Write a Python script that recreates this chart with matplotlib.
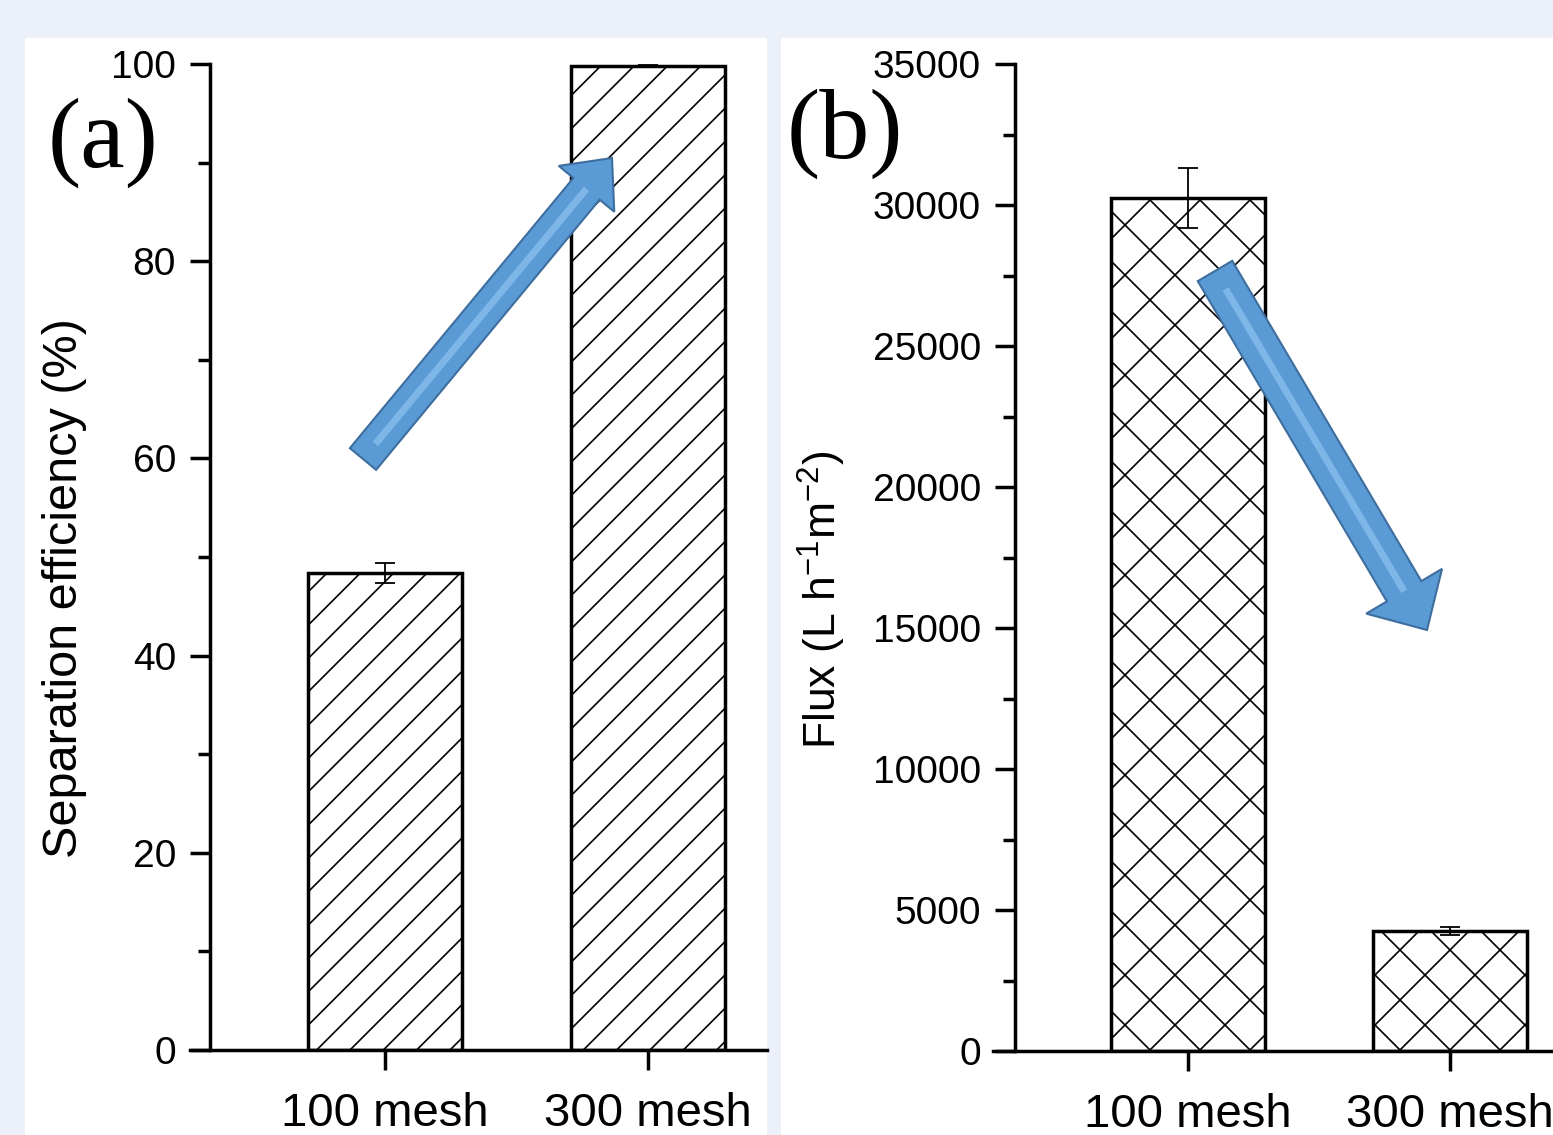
import matplotlib
matplotlib.use('Agg')
import matplotlib.pyplot as plt
import matplotlib.hatch as mhatch
from matplotlib.patches import Rectangle, FancyArrow
from matplotlib.lines import Line2D
from matplotlib.ticker import MultipleLocator
from matplotlib.transforms import Affine2D

# data
meshes = ['100 mesh', '300 mesh']
efficiency = [48.4, 99.8]
efficiency_err = [1.0, 0.1]
flux = [30250, 4255]
flux_err = [1060, 150]

W, H = 1553, 1135
DPI = 100

plt.rcParams['font.family'] = ['Liberation Sans', 'DejaVu Sans']
plt.rcParams['mathtext.default'] = 'regular'
plt.rcParams['hatch.linewidth'] = 1.2

# origin's cross hatch is wider apart than matplotlib's
_get_path = mhatch.get_path
def hatch_path(pattern, density=6):
    return _get_path(pattern, 4 if pattern == 'x' else density)
mhatch.get_path = hatch_path

fig = plt.figure(figsize=(W / DPI, H / DPI), dpi=DPI)
fig.patch.set_facecolor('#ECF0F8')
px = Affine2D().scale(1 / DPI) + fig.dpi_scale_trans  # figure pixels, origin bottom-left

# white panels
fig.add_artist(Rectangle((25, 0), 742, H - 38, transform=px, fc='white', ec='none', zorder=-1))
fig.add_artist(Rectangle((781, 0), W - 781, H - 38, transform=px, fc='white', ec='none', zorder=-1))


def style_axes(ax, spine_off):
    ax.patch.set_alpha(0)
    for s in ['top', 'right']:
        ax.spines[s].set_visible(False)
    for s in ['left', 'bottom']:
        ax.spines[s].set_linewidth(2.5)
    ax.spines['left'].set_position(('axes', spine_off))
    ax.tick_params(axis='both', which='both', direction='out', width=2.5)
    ax.tick_params(axis='y', which='major', length=14.4, labelsize=28, pad=10)
    ax.tick_params(axis='y', which='minor', length=8.6)
    ax.tick_params(axis='x', which='major', length=14.4, labelsize=34, pad=16)
    ax.set_xticks([1, 2])
    ax.set_xticklabels(meshes)


def draw_bars(ax, vals, errs, hatch):
    ax.bar([1, 2], vals, width=0.585, color='white', edgecolor='black',
           linewidth=2.5, hatch=hatch, zorder=2)
    ax.errorbar([1, 2], vals, yerr=errs, fmt='none', ecolor='black',
                elinewidth=1.3, capsize=7, capthick=1.3, zorder=3)


# (a) separation efficiency
ax_a = fig.add_axes([190 / W, (H - 1050) / H, 577 / W, 986 / H])
draw_bars(ax_a, efficiency, efficiency_err, '/')
ax_a.set_xlim(0.259, 2.452)
ax_a.set_ylim(0, 100)
ax_a.yaxis.set_major_locator(MultipleLocator(20))
ax_a.yaxis.set_minor_locator(MultipleLocator(10))
style_axes(ax_a, 20 / 577)
ax_a.set_ylabel('Separation efficiency (%)', fontsize=35)
ax_a.yaxis.set_label_coords(-0.1785, 0.4686)

# (b) flux
ax_b = fig.add_axes([993 / W, (H - 1051) / H, 560 / W, 987 / H])
draw_bars(ax_b, flux, flux_err, 'x')
ax_b.set_xlim(0.256, 2.393)
ax_b.set_ylim(0, 35000)
ax_b.yaxis.set_major_locator(MultipleLocator(5000))
ax_b.yaxis.set_minor_locator(MultipleLocator(2500))
style_axes(ax_b, 22 / 560)
ax_b.set_ylabel('Flux (L h$^{-1}$m$^{-2}$)', fontsize=32)
ax_b.yaxis.set_label_coords(-0.259, 0.457)

fig.text(48, H - 167, '(a)', transform=px, family='Liberation Serif', fontsize=72, va='baseline')
fig.text(787, H - 158, '(b)', transform=px, family='Liberation Serif', fontsize=72, va='baseline')


def blue_arrow(x0, y0, x1, y1, width, head_w, head_l):
    # coordinates in picture pixels (y down)
    dx, dy = x1 - x0, y0 - y1
    fig.add_artist(FancyArrow(x0, H - y0, dx, dy, width=width, head_width=head_w,
                              head_length=head_l, length_includes_head=True,
                              transform=px, fc='#5B9BD5', ec='#3E6E9E', lw=1.5, zorder=10))
    L = (dx ** 2 + dy ** 2) ** 0.5
    f = (L - head_l) / L
    fig.add_artist(Line2D([x0 + 0.05 * dx, x0 + f * dx], [H - y0 + 0.05 * dy, H - y0 + f * dy],
                          transform=px, color='#8CC2F0', lw=5, alpha=0.7,
                          solid_capstyle='butt', zorder=11))


blue_arrow(363, 459, 612, 158, 34, 72, 40)
blue_arrow(1215, 271, 1427, 630, 40, 88, 45)

fig.savefig('out.png', dpi=DPI, facecolor=fig.get_facecolor())
